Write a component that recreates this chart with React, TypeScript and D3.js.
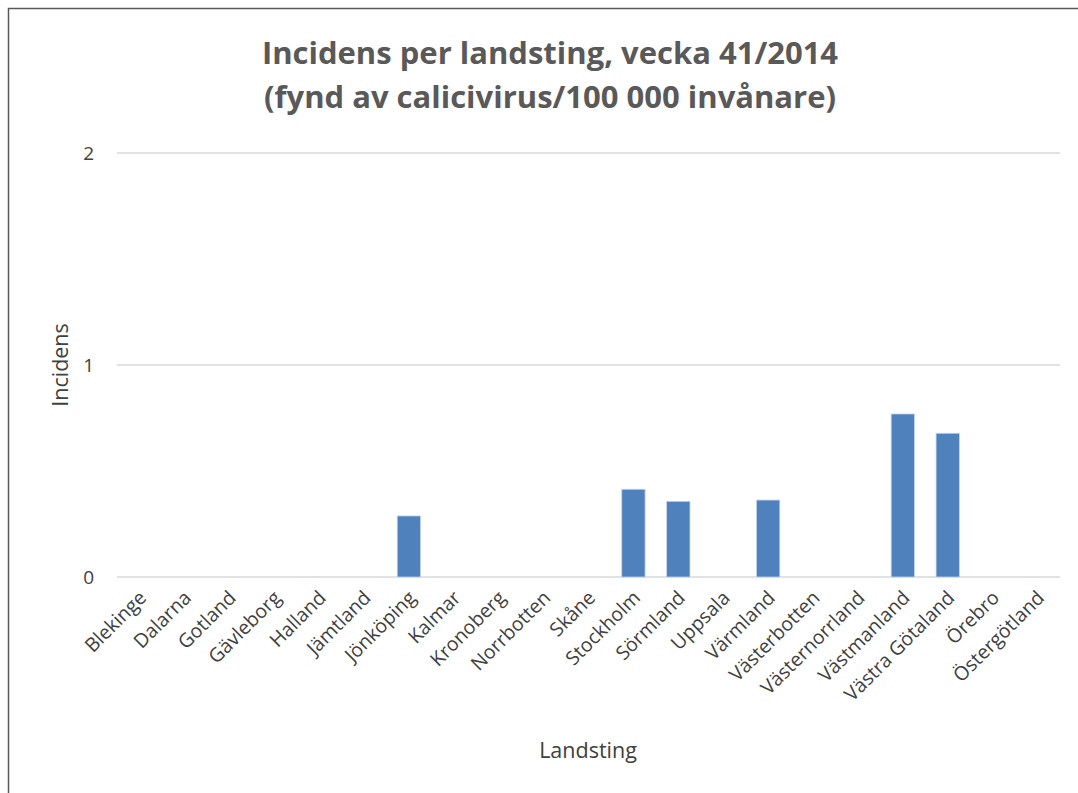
import { useEffect, useRef } from "react";
import * as d3 from "d3";

const landsting = [
  "Blekinge", "Dalarna", "Gotland", "Gävleborg", "Halland", "Jämtland", "Jönköping",
  "Kalmar", "Kronoberg", "Norrbotten", "Skåne", "Stockholm", "Sörmland", "Uppsala",
  "Värmland", "Västerbotten", "Västernorrland", "Västmanland", "Västra Götaland",
  "Örebro", "Östergötland",
];
const incidens = [
  0, 0, 0, 0, 0, 0, 0.288, 0, 0, 0, 0, 0.414, 0.357, 0, 0.363, 0, 0, 0.769, 0.678, 0, 0,
];
const yTicks = [0, 1, 2];
const titleLines = [
  "Incidens per landsting, vecka 41/2014",
  "(fynd av calicivirus/100 000 invånare)",
];

const W = 1078;
const H = 793;
const FONT = "'Open Sans', 'Noto Sans', sans-serif";

export default function App() {
  const svgRef = useRef<SVGSVGElement>(null);

  useEffect(() => {
    if (!svgRef.current) return;
    const svg = d3.select(svgRef.current);
    svg.selectAll("*").remove();

    const left = 117, right = 1060, top = 153, bottom = 577;

    // chart frame (runs past the right and bottom of the picture)
    svg.append("rect")
      .attr("x", 8.5).attr("y", 8.5)
      .attr("width", W + 20).attr("height", H + 20)
      .attr("fill", "white").attr("stroke", "#595959").attr("stroke-width", 1.5);

    const x = d3.scaleBand<string>().domain(landsting).range([left, right]).paddingInner(0.48).paddingOuter(0.24);
    const y = d3.scaleLinear().domain([0, 2]).range([bottom, top]);

    // gridlines
    svg.append("g").selectAll("line").data(yTicks).enter().append("line")
      .attr("x1", left).attr("x2", right)
      .attr("y1", (d) => y(d)).attr("y2", (d) => y(d))
      .attr("stroke", "#d9d9d9").attr("stroke-width", 1.5);

    // y tick labels
    svg.append("g").selectAll("text").data(yTicks).enter().append("text")
      .attr("x", 94).attr("y", (d) => y(d)).attr("dy", "0.35em")
      .attr("text-anchor", "end")
      .attr("font-family", FONT).attr("font-size", 19).attr("fill", "#404040")
      .text((d) => d);

    // bars
    svg.append("g").selectAll("rect").data(incidens).enter().append("rect")
      .attr("x", (_, i) => x(landsting[i])!)
      .attr("width", x.bandwidth())
      .attr("y", (d) => y(d))
      .attr("height", (d) => y(0) - y(d))
      .attr("fill", "#4f81bd")
      .attr("stroke", (d) => (d > 0 ? "#c6d5ea" : "none"))
      .attr("stroke-width", 0.8);

    // category labels
    svg.append("g").selectAll("text").data(landsting).enter().append("text")
      .attr("transform", (d) => `translate(${x(d)! + x.bandwidth() / 2 + 8},${bottom + 22}) rotate(-45)`)
      .attr("text-anchor", "end")
      .attr("font-family", FONT).attr("font-size", 19.5).attr("fill", "#404040")
      .text((d) => d);

    // axis titles
    svg.append("text")
      .attr("transform", `translate(68,${(top + bottom) / 2}) rotate(-90)`)
      .attr("text-anchor", "middle")
      .attr("font-family", FONT).attr("font-size", 21.5).attr("fill", "#404040")
      .text("Incidens");

    svg.append("text")
      .attr("x", 588).attr("y", 758)
      .attr("text-anchor", "middle")
      .attr("font-family", FONT).attr("font-size", 21.5).attr("fill", "#404040")
      .text("Landsting");

    // title
    svg.append("g").selectAll("text").data(titleLines).enter().append("text")
      .attr("x", 550).attr("y", (_, i) => 64 + i * 44)
      .attr("text-anchor", "middle")
      .attr("font-family", FONT).attr("font-size", 31).attr("font-weight", "bold")
      .attr("fill", "#595959")
      .text((d) => d);
  }, []);

  return (
    <svg ref={svgRef} width={W} height={H} style={{ position: "absolute", left: 0, top: 0 }} />
  );
}
